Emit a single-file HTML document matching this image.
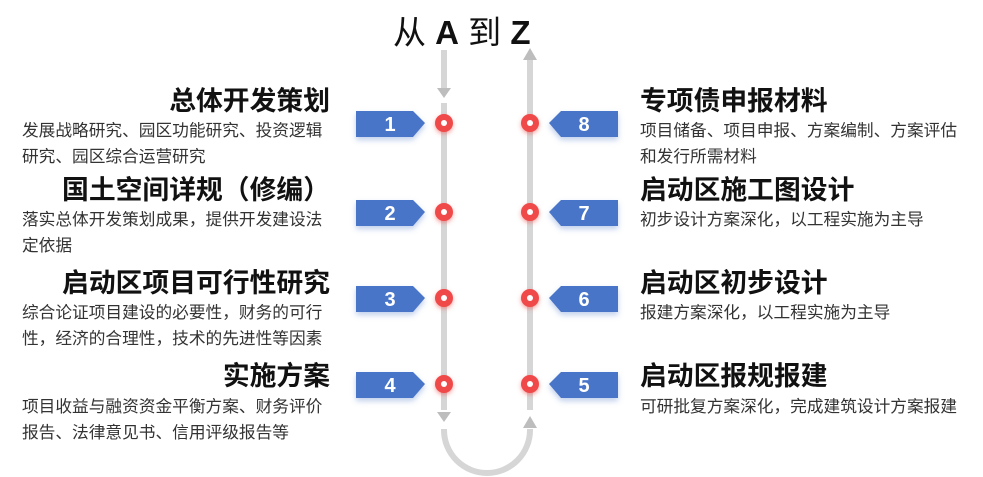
<!DOCTYPE html>
<html><head><meta charset="utf-8"><style>
body{margin:0;width:983px;height:477px;background:#fff;position:relative;overflow:hidden;font-family:"Liberation Sans","Noto Sans CJK SC",sans-serif}
.t{position:absolute;font-size:26.8px;font-weight:bold;color:#111;white-space:nowrap;line-height:30px}
.l{right:653px;text-align:right}
.r{left:640px}
.d{position:absolute;font-size:16.7px;color:#333;line-height:26px;white-space:nowrap}
.dl{left:22px}.dr{left:640px}
</style></head><body>
<div style="position:absolute;left:393px;top:12px;font-size:33px;line-height:42px;color:#111;white-space:nowrap">从 <b>A</b> 到 <b>Z</b></div>
<svg width="983" height="477" style="position:absolute;left:0;top:0">
<defs><filter id="s" x="-50%" y="-50%" width="200%" height="200%"><feDropShadow dx="0" dy="3" stdDeviation="3" flood-color="#4a74c9" flood-opacity="0.35"/></filter>
<filter id="g" x="-50%" y="-50%" width="200%" height="200%"><feDropShadow dx="0" dy="2" stdDeviation="2" flood-color="#f04848" flood-opacity="0.5"/></filter></defs>
<g fill="#d6d6d6">
<rect x="441" y="50" width="6" height="38"/>
<rect x="441" y="103" width="6" height="307"/>
<rect x="527" y="60" width="6" height="350"/>
</g>
<g fill="#bdbdbd">
<polygon points="437,88 451,88 444,98"/>
<polygon points="437,412 451,412 444,422"/>
<polygon points="523,60 537,60 530,48"/>
<polygon points="523,428 537,428 530,416"/>
</g>
<path d="M444 429 v1 a43 43 0 0 0 86 0 v-1" fill="none" stroke="#d6d6d6" stroke-width="6"/>
<g filter="url(#s)" fill="#4a74c9">
<polygon points="356,111 413,111 425,123 413,137 356,137"/>
<polygon points="356,200 413,200 425,212 413,226 356,226"/>
<polygon points="356,286 413,286 425,298 413,312 356,312"/>
<polygon points="356,372 413,372 425,384 413,398 356,398"/>
<polygon points="618,111 561,111 549,123 561,137 618,137"/>
<polygon points="618,200 561,200 549,212 561,226 618,226"/>
<polygon points="618,286 561,286 549,298 561,312 618,312"/>
<polygon points="618,372 561,372 549,384 561,398 618,398"/>
</g>
<g font-family="Liberation Sans" font-weight="bold" font-size="20" fill="#fff" text-anchor="middle">
<text x="390" y="131">1</text><text x="390" y="220">2</text><text x="390" y="306">3</text><text x="390" y="392">4</text>
<text x="584" y="131">8</text><text x="584" y="220">7</text><text x="584" y="306">6</text><text x="584" y="392">5</text>
</g>
<g filter="url(#g)" fill="#f04848">
<circle cx="444" cy="123" r="9"/><circle cx="444" cy="212" r="9"/><circle cx="444" cy="298" r="9"/><circle cx="444" cy="384" r="9"/>
<circle cx="530" cy="123" r="9"/><circle cx="530" cy="212" r="9"/><circle cx="530" cy="298" r="9"/><circle cx="530" cy="384" r="9"/>
</g>
<g fill="#fff">
<circle cx="444" cy="123" r="3"/><circle cx="444" cy="212" r="3"/><circle cx="444" cy="298" r="3"/><circle cx="444" cy="384" r="3"/>
<circle cx="530" cy="123" r="3"/><circle cx="530" cy="212" r="3"/><circle cx="530" cy="298" r="3"/><circle cx="530" cy="384" r="3"/>
</g>
</svg>
<div class="t l" style="top:86px">总体开发策划</div>
<div class="d dl" style="top:118px">发展战略研究、园区功能研究、投资逻辑<br>研究、园区综合运营研究</div>
<div class="t l" style="top:175px">国土空间详规（修编）</div>
<div class="d dl" style="top:207px">落实总体开发策划成果，提供开发建设法<br>定依据</div>
<div class="t l" style="top:268px">启动区项目可行性研究</div>
<div class="d dl" style="top:300px">综合论证项目建设的必要性，财务的可行<br>性，经济的合理性，技术的先进性等因素</div>
<div class="t l" style="top:361px">实施方案</div>
<div class="d dl" style="top:394px">项目收益与融资资金平衡方案、财务评价<br>报告、法律意见书、信用评级报告等</div>
<div class="t r" style="top:86px">专项债申报材料</div>
<div class="d dr" style="top:118px">项目储备、项目申报、方案编制、方案评估<br>和发行所需材料</div>
<div class="t r" style="top:175px">启动区施工图设计</div>
<div class="d dr" style="top:207px">初步设计方案深化，以工程实施为主导</div>
<div class="t r" style="top:268px">启动区初步设计</div>
<div class="d dr" style="top:300px">报建方案深化，以工程实施为主导</div>
<div class="t r" style="top:361px">启动区报规报建</div>
<div class="d dr" style="top:394px">可研批复方案深化，完成建筑设计方案报建</div>
</body></html>
